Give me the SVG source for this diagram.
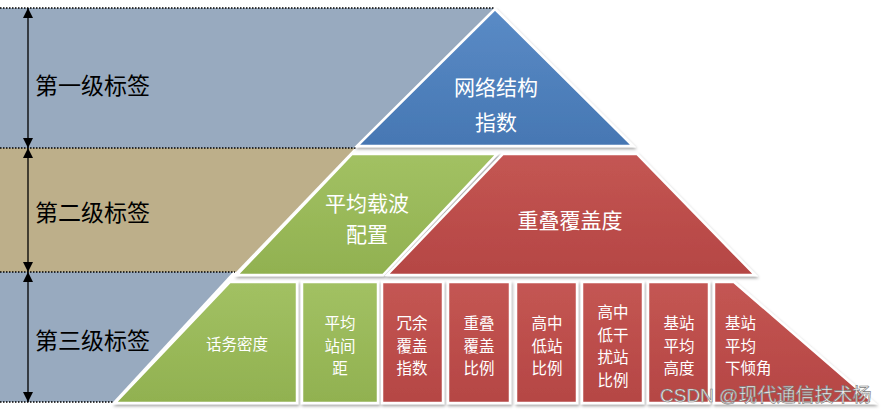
<svg xmlns="http://www.w3.org/2000/svg" width="886" height="415" viewBox="0 0 886 415">
<style>
.lbl{font-family:"Noto Sans CJK SC","Liberation Sans",sans-serif;font-size:23px;fill:#000}
.t1{font-family:"Noto Sans CJK SC","Liberation Sans",sans-serif;font-size:21px;fill:#fff;text-anchor:middle}
.t3{font-family:"Noto Sans CJK SC","Liberation Sans",sans-serif;font-size:15.5px;fill:#fff;text-anchor:middle}
.sh{stroke:#fff;stroke-width:2.5;stroke-linejoin:miter;filter:url(#shadow)}
.dot{stroke:#000;stroke-width:1.5;stroke-dasharray:1.5 1.5;fill:none}
.arr{stroke:#000;stroke-width:1.3;fill:none;marker-start:url(#ah);marker-end:url(#ah)}
.wm{font-family:"Liberation Sans","Noto Sans CJK SC",sans-serif;font-size:19px;fill:#f2f2f2;stroke:#7a7a7a;stroke-width:0.6}
</style>
<defs>
<marker id="ah" viewBox="0 0 10 10" refX="10" refY="5" markerWidth="10" markerHeight="10" markerUnits="userSpaceOnUse" orient="auto-start-reverse">
<path d="M0,0 L10,5 L0,10 z" fill="#000"/>
</marker>
<linearGradient id="gB" x1="0" y1="0" x2="0" y2="1"><stop offset="0" stop-color="#5a8bc6"/><stop offset="1" stop-color="#4677b3"/></linearGradient>
<linearGradient id="gG" x1="0" y1="0" x2="0" y2="1"><stop offset="0" stop-color="#a2c163"/><stop offset="1" stop-color="#91b150"/></linearGradient>
<linearGradient id="gR" x1="0" y1="0" x2="0" y2="1"><stop offset="0" stop-color="#c45653"/><stop offset="1" stop-color="#b54644"/></linearGradient>
<filter id="shadow" x="-10%" y="-10%" width="120%" height="130%">
<feDropShadow dx="1" dy="2" stdDeviation="1.5" flood-color="#000" flood-opacity="0.35"/>
</filter>
</defs>

<g id="bands">
<polygon points="0,8 495,8 355,148 0,148" fill="#98aabf"/>
<polygon points="0,148 355,148 236,272 0,272" fill="#bdaf8a"/>
<polygon points="0,272 233,272 113,402 0,402" fill="#98aabf"/>
<line class="dot" x1="0" y1="8" x2="495" y2="8"/>
<line class="dot" x1="0" y1="148" x2="356" y2="148"/>
<line class="dot" x1="0" y1="272" x2="235" y2="272"/>
<line class="dot" x1="0" y1="402" x2="114" y2="402"/>
</g>

<g id="connectors">
<line class="arr" x1="28" y1="8" x2="28" y2="148"/>
<line class="arr" x1="28" y1="148" x2="28" y2="272"/>
<line class="arr" x1="28" y1="272" x2="28" y2="402"/>
</g>

<g id="labels">
<text class="lbl" x="35" y="94">第一级标签</text>
<text class="lbl" x="35" y="221">第二级标签</text>
<text class="lbl" x="35" y="349">第三级标签</text>
</g>

<g id="n-network">
<polygon class="sh" points="495,9 357,146 633,146" fill="url(#gB)"/>
<text class="t1" font-size="24"><tspan x="496" y="95">网络结构</tspan><tspan x="496" y="130">指数</tspan></text>
</g>

<g id="n-carrier">
<polygon class="sh" points="352,154 497,154 383,275 237,275" fill="url(#gG)"/>
<text class="t1"><tspan x="367" y="211">平均载波</tspan><tspan x="367" y="242">配置</tspan></text>
</g>

<g id="n-overlap">
<polygon class="sh" points="503,154 637,154 755,275 387,275" fill="url(#gR)"/>
<text class="t1" x="570" y="228" font-size="23">重叠覆盖度</text>
</g>

<g id="n-traffic">
<polygon class="sh" points="230,282 297,282 297,403 115,403" fill="url(#gG)"/>
<text class="t3" x="237" y="350" font-size="17">话务密度</text>
</g>

<g id="n-distance">
<rect class="sh" x="302" y="282" width="76" height="121" fill="url(#gG)"/>
<text class="t3"><tspan x="340" y="329">平均</tspan><tspan x="340" y="351.5">站间</tspan><tspan x="340" y="374">距</tspan></text>
</g>

<g id="n-redundant">
<rect class="sh" x="382" y="282" width="61" height="121" fill="url(#gR)"/>
<text class="t3"><tspan x="412" y="329">冗余</tspan><tspan x="412" y="351.5">覆盖</tspan><tspan x="412" y="374">指数</tspan></text>
</g>

<g id="n-overlap-ratio">
<rect class="sh" x="448" y="282" width="62" height="121" fill="url(#gR)"/>
<text class="t3"><tspan x="479" y="329">重叠</tspan><tspan x="479" y="351.5">覆盖</tspan><tspan x="479" y="374">比例</tspan></text>
</g>

<g id="n-hml-site">
<rect class="sh" x="516" y="282" width="61" height="121" fill="url(#gR)"/>
<text class="t3"><tspan x="547" y="329">高中</tspan><tspan x="547" y="351.5">低站</tspan><tspan x="547" y="374">比例</tspan></text>
</g>

<g id="n-hml-interf">
<rect class="sh" x="582" y="282" width="61" height="121" fill="url(#gR)"/>
<text class="t3"><tspan x="613" y="318">高中</tspan><tspan x="613" y="340.5">低干</tspan><tspan x="613" y="363">扰站</tspan><tspan x="613" y="385.5">比例</tspan></text>
</g>

<g id="n-height">
<rect class="sh" x="648" y="282" width="61" height="121" fill="url(#gR)"/>
<text class="t3"><tspan x="679" y="329">基站</tspan><tspan x="679" y="351.5">平均</tspan><tspan x="679" y="374">高度</tspan></text>
</g>

<g id="n-tilt">
<polygon class="sh" points="714,282 734,282 874,403 714,403" fill="url(#gR)"/>
<text class="t3" style="text-anchor:start"><tspan x="725" y="329">基站</tspan><tspan x="725" y="351.5">平均</tspan><tspan x="725" y="374">下倾角</tspan></text>
</g>

<text class="wm" x="660" y="402">CSDN @现代通信技术杨</text>
</svg>
